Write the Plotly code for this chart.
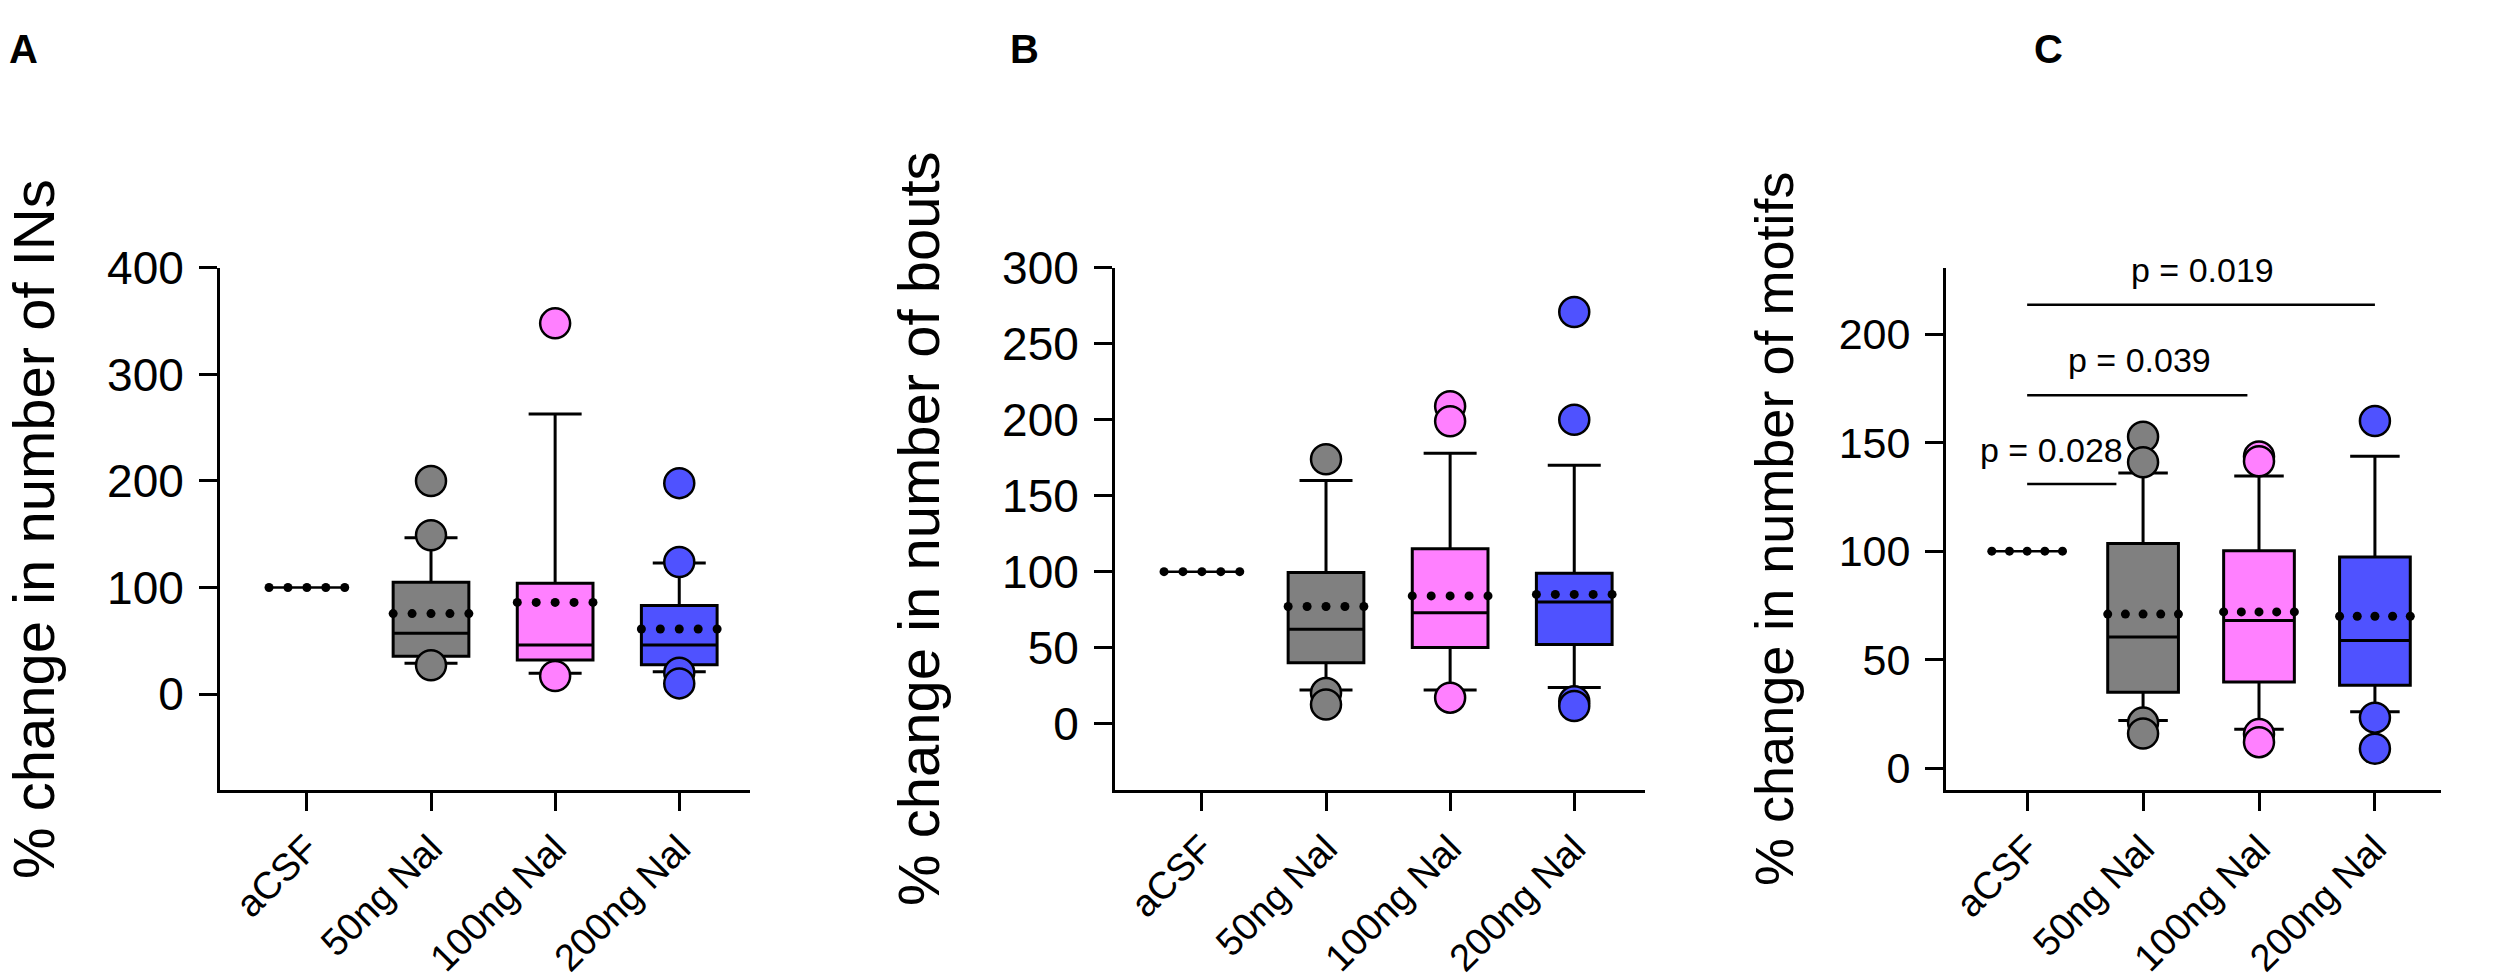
import plotly.graph_objects as go

W, H = 2500, 979

groups = ["aCSF", "50ng Nal", "100ng Nal", "200ng Nal"]
colors = ["#808080", "#ff80ff", "#4f52ff"]  # 50, 100, 200 ng

# panel A: % change in number of INs  (50ng, 100ng, 200ng)
a_q1 = [35.5, 32, 27.5]
a_med = [57, 46, 46]
a_q3 = [105, 104, 83]
a_lo = [29, 19.5, 21]
a_hi = [146.7, 263, 123]
a_mean = [75.5, 86, 61]
a_out = [[200, 149, 27], [348, 17], [198, 124, 20, 10]]

# panel B: % change in number of bouts
b_q1 = [40, 50, 52]
b_med = [62, 73, 80]
b_q3 = [99.5, 115, 99]
b_lo = [22, 22, 23.7]
b_hi = [160, 178, 170]
b_mean = [77, 84, 85]
b_out = [[174, 20, 12.5], [209, 199, 17], [271, 200, 14.6, 11.5]]

# panel C: % change in number of motifs
c_q1 = [35, 39.7, 38.2]
c_med = [60.5, 68, 58.8]
c_q3 = [103.5, 100.2, 97.3]
c_lo = [22, 18, 26]
c_hi = [136, 134.6, 143.8]
c_mean = [71, 72, 70]
c_out = [[152.7, 141, 21, 16], [143.6, 141.4, 15.7, 12], [160, 23.3, 9]]

acsf_value = 100

# significance bars in C
p_start = [0, 0, 0]
p_end = [0.77, 1.9, 3.0]
p_y = [131, 171.8, 213.6]
p_text = ["p = 0.028", "p = 0.039", "p = 0.019"]
p_tx = [0.21, 0.97, 1.51]
p_ty = [146.5, 188, 229.7]

panels = [
    dict(name="x", q1=a_q1, med=a_med, q3=a_q3, lo=a_lo, hi=a_hi, mean=a_mean, out=a_out,
         xdom=(220, 750), yrange=[-90, 400], yticks=[0, 100, 200, 300, 400],
         title="% change in number of INs", tx=34, fs=46, tfs=58, letter="A", lx=24),
    dict(name="x2", q1=b_q1, med=b_med, q3=b_q3, lo=b_lo, hi=b_hi, mean=b_mean, out=b_out,
         xdom=(1115, 1645), yrange=[-43.75, 300], yticks=[0, 50, 100, 150, 200, 250, 300],
         title="% change in number of bouts", tx=919, fs=46, tfs=58, letter="B", lx=1024),
    dict(name="x3", q1=c_q1, med=c_med, q3=c_q3, lo=c_lo, hi=c_hi, mean=c_mean, out=c_out,
         xdom=(1946, 2441), yrange=[-10, 230.5], yticks=[0, 50, 100, 150, 200],
         title="% change in number of motifs", tx=1774, fs=43, tfs=54, letter="C", lx=2048),
]

box_w = 0.61
dot_off = [-0.305, -0.1525, 0, 0.1525, 0.305]
ydom = (1 - 805 / H, 1 - 255 / H)

fig = go.Figure()
annotations = []
shapes = []

for k, p in enumerate(panels):
    xa, ya = p["name"], p["name"].replace("x", "y")
    # aCSF: every value is 100, so the box collapses to a line
    fig.add_trace(go.Scatter(
        x=[dot_off[0], dot_off[-1]], y=[acsf_value, acsf_value], mode="lines",
        line=dict(color="black", width=2.5), xaxis=xa, yaxis=ya,
        showlegend=False, hoverinfo="skip"))
    fig.add_trace(go.Scatter(
        x=dot_off, y=[acsf_value] * 5, mode="markers",
        marker=dict(color="black", size=9), xaxis=xa, yaxis=ya,
        showlegend=False, hoverinfo="skip"))
    for i in range(3):
        pos = i + 1
        fig.add_trace(go.Box(
            x=[pos], q1=[p["q1"][i]], median=[p["med"][i]], q3=[p["q3"][i]],
            lowerfence=[p["lo"][i]], upperfence=[p["hi"][i]],
            width=box_w, whiskerwidth=0.7, fillcolor=colors[i],
            line=dict(color="black", width=3), boxpoints=False,
            xaxis=xa, yaxis=ya, showlegend=False))
        outs = p["out"][i]
        fig.add_trace(go.Scatter(
            x=[pos] * len(outs), y=outs, mode="markers",
            marker=dict(color=colors[i], size=30, line=dict(color="black", width=2.5)),
            xaxis=xa, yaxis=ya, showlegend=False, cliponaxis=False))
        # dotted mean line
        fig.add_trace(go.Scatter(
            x=[pos + d for d in dot_off], y=[p["mean"][i]] * 5, mode="markers",
            marker=dict(color="black", size=9), xaxis=xa, yaxis=ya,
            showlegend=False, hoverinfo="skip"))

    axis_common = dict(showline=True, linewidth=3, linecolor="black", ticks="outside",
                       ticklen=18, tickwidth=3, tickcolor="black", showgrid=False,
                       zeroline=False)
    suffix = "" if k == 0 else str(k + 1)
    fig.layout["xaxis" + suffix] = dict(
        axis_common, domain=[p["xdom"][0] / W, p["xdom"][1] / W], range=[-0.7, 3.57],
        tickvals=[0, 1, 2, 3], ticktext=groups, tickangle=-45, anchor=ya,
        tickfont=dict(family="Liberation Sans", size=38, color="black"))
    fig.layout["yaxis" + suffix] = dict(
        axis_common, domain=list(ydom), range=p["yrange"], tickvals=p["yticks"],
        anchor=xa, ticklabelstandoff=6,
        tickfont=dict(family="Liberation Sans", size=p["fs"], color="black"))

    annotations.append(dict(
        text=p["title"], textangle=-90, x=p["tx"] / W, y=1 - 530 / H,
        xref="paper", yref="paper", xanchor="center", yanchor="middle", showarrow=False,
        font=dict(family="Liberation Sans", size=p["tfs"], color="black")))
    annotations.append(dict(
        text="<b>" + p["letter"] + "</b>", x=p["lx"] / W, y=1 - 24 / H,
        xref="paper", yref="paper", xanchor="center", yanchor="middle", showarrow=False,
        font=dict(family="Liberation Sans", size=40, color="black")))

for j in range(3):
    shapes.append(dict(type="line", xref="x3", yref="y3", x0=p_start[j], x1=p_end[j],
                       y0=p_y[j], y1=p_y[j], line=dict(color="black", width=2.5)))
    annotations.append(dict(
        text=p_text[j], x=p_tx[j], y=p_ty[j], xref="x3", yref="y3",
        xanchor="center", yanchor="middle", showarrow=False,
        font=dict(family="Liberation Sans", size=34, color="black")))

fig.update_layout(
    width=W, height=H, autosize=False, margin=dict(l=0, r=0, t=0, b=0),
    plot_bgcolor="white", paper_bgcolor="white",
    annotations=annotations, shapes=shapes, showlegend=False)

# drop the default page margin so the 2500x979 figure fills the window exactly
fig.write_html("out.html", config={"displayModeBar": False},
               post_script="document.body.style.margin='0';"
                           "document.body.style.overflow='hidden';")
